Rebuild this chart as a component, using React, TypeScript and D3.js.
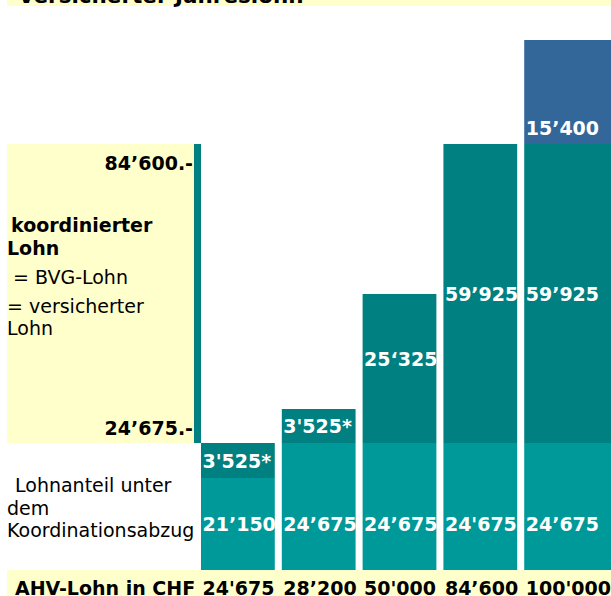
import React from "react";
import * as d3 from "d3";

// AHV salary per example (CHF)
const ahvLohn = [24675, 28200, 50000, 84600, 100000];
const ahvLabels = ["24'675", "28’200", "50'000", "84’600", "100'000"];
// part below the coordination deduction
const unterAbzug = [21150, 24675, 24675, 24675, 24675];
const unterLabels = ["21’150", "24’675", "24’675", "24'675", "24’675"];
// coordinated (insured) salary
const koordiniert = [3525, 3525, 25325, 59925, 59925];
const koordLabels = ["3'525*", "3'525*", "25‘325", "59’925", "59’925"];
// part above the max insured salary
const ueberMax = [0, 0, 0, 0, 15400];
const ueberLabels = ["", "", "", "", "15’400"];
// bounds of the coordinated salary
const koordBounds = [24675, 84600];
const koordBoundLabels = ["24’675.-", "84’600.-"];

const W = 611;
const H = 596;
const FONT = "DejaVu Sans, Verdana, sans-serif";
const DARK = "#008080";
const LIGHT = "#009999";
const BLUE = "#336699";
const YELLOW = "#ffffcc";
const FS = 19;

export default function App() {
  // schematic (piecewise) value axis, like the original slide
  const stops = Array.from(
    new Set([0, ...unterAbzug, ...ahvLohn, ...koordBounds])
  ).sort((a, b) => a - b);
  const y = d3
    .scaleLinear()
    .domain(stops)
    .range([570, 478, 443, 409, 294, 144, 40]);

  const x = d3
    .scaleBand<number>()
    .domain(d3.range(ahvLohn.length))
    .range([201, 598])
    .paddingInner(0.087)
    .paddingOuter(0);

  const barW = (i: number) =>
    i === ahvLohn.length - 1 ? W - (x(i) as number) : x.bandwidth();

  const bottomLabelY = (y(0) + y(d3.min(unterAbzug) as number)) / 2;
  const koordShift = [0, 0, -10, 0, 0];

  const yTop = y(koordBounds[1]);
  const yBot = y(koordBounds[0]);

  return (
    <svg
      width={W}
      height={H}
      style={{ position: "absolute", left: 0, top: 0, background: "#fff" }}
      fontFamily={FONT}
    >
      {/* title strip, cut off at the top */}
      <rect x={7} y={0} width={W - 7} height={6} fill={YELLOW} />
      <text x={18} y={3} fontSize={21.5} fontWeight="bold" fill="#000">
        Versicherter Jahreslohn
      </text>

      {/* left yellow panel for coordinated salary */}
      <rect x={7} y={yTop} width={187} height={yBot - yTop} fill={YELLOW} />
      <rect x={194} y={yTop} width={7} height={yBot - yTop} fill={DARK} />
      {koordBounds.map((v, i) => (
        <text
          key={v}
          x={193}
          y={i === 1 ? yTop + 26 : yBot - 8}
          textAnchor="end"
          fontSize={FS}
          fontWeight="bold"
        >
          {koordBoundLabels[i]}
        </text>
      ))}
      <g fontSize={FS}>
        <text x={11} y={232} fontWeight="bold">koordinierter</text>
        <text x={7} y={255} fontWeight="bold">Lohn</text>
        <text x={13} y={284}>= BVG-Lohn</text>
        <text x={7} y={313}>= versicherter</text>
        <text x={7} y={335}>Lohn</text>
        <text x={15} y={492}>Lohnanteil unter</text>
        <text x={7} y={515}>dem</text>
        <text x={7} y={537}>Koordinationsabzug</text>
      </g>

      {/* stacked bars */}
      {ahvLohn.map((total, i) => {
        const bx = x(i) as number;
        const w = barW(i);
        const y0 = y(0);
        const y1 = y(unterAbzug[i]);
        const y2 = y(unterAbzug[i] + koordiniert[i]);
        const y3 = y(unterAbzug[i] + koordiniert[i] + ueberMax[i]);
        return (
          <g key={total}>
            <rect x={bx} y={y1} width={w} height={y0 - y1} fill={LIGHT} />
            <rect x={bx} y={y2} width={w} height={y1 - y2} fill={DARK} />
            {ueberMax[i] > 0 && (
              <rect x={bx} y={y3} width={w} height={y2 - y3} fill={BLUE} />
            )}
            <g fill="#fff" fontSize={FS} fontWeight="bold">
              <text x={bx + 1.5} y={bottomLabelY + 7}>
                {unterLabels[i]}
              </text>
              <text x={bx + 1.5} y={(y1 + y2) / 2 + 7 + koordShift[i]}>
                {koordLabels[i]}
              </text>
              {ueberMax[i] > 0 && (
                <text x={bx + 1.5} y={y2 - 9}>
                  {ueberLabels[i]}
                </text>
              )}
            </g>
          </g>
        );
      })}

      {/* bottom strip with AHV salaries */}
      <rect x={7} y={y(0)} width={W - 7} height={H - y(0)} fill={YELLOW} />
      <g fontSize={FS} fontWeight="bold" fill="#000">
        <text x={15} y={595}>AHV-Lohn in CHF</text>
        {ahvLabels.map((l, i) => (
          <text key={l} x={(x(i) as number) + 1.5} y={595}>
            {l}
          </text>
        ))}
      </g>
    </svg>
  );
}
